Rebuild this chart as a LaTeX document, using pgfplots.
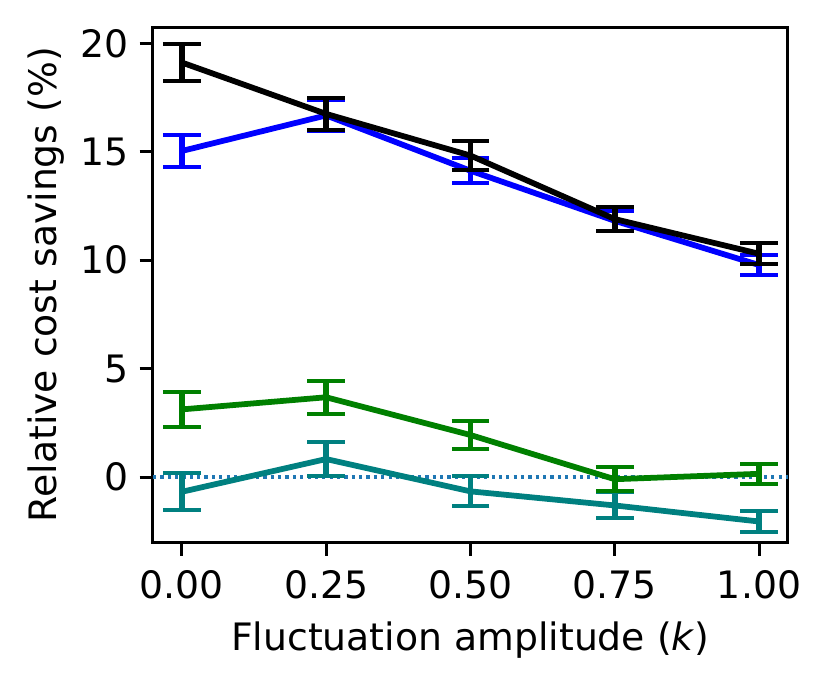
\documentclass[border=0pt]{standalone}
\usepackage{fontspec}
\setmainfont{DejaVu Sans}
\usepackage{pgfplots}
\pgfplotsset{compat=1.18}
\definecolor{mplblue}{HTML}{1F77B4}
\definecolor{teal2}{RGB}{0,128,128}
\definecolor{green2}{RGB}{0,128,0}
\begin{document}
\begin{tikzpicture}
\useasboundingbox (-47.8pt,-46.25pt) rectangle (211.25pt,169.4pt);
\begin{axis}[
  at={(0,0)}, anchor=south west,
  scale only axis, width=198.4pt, height=160.9pt,
  xmin=-0.05, xmax=1.05, ymin=-3, ymax=20.75,
  xtick={0,0.25,0.5,0.75,1},
  xticklabels={0.00,0.25,0.50,0.75,1.00},
  ytick={0,5,10,15,20},
  /pgf/number format/assume math mode=true,
  tick align=outside, tick pos=left,
  major tick length=4.2pt,
  every tick/.style={black, line width=0.95pt},
  axis line style={line width=0.95pt},
  ticklabel style={font=\fontsize{11.8}{13}\selectfont},
  label style={font=\fontsize{11.8}{13}\selectfont},
  xticklabel style={yshift=-1pt},
  xlabel={Fluctuation amplitude (\textit{k})},
  ylabel={Relative cost savings (\%)},
  xlabel style={yshift=-0.3pt},
  ylabel style={yshift=-2pt},
  clip=false,
]
\addplot[mplblue, line width=1.2pt, dash pattern=on 1pt off 1.3pt, forget plot] coordinates {(-0.05,0) (1.05,0)};
\pgfplotsset{
  eb/.style={line width=1.8pt,
    error bars/.cd, y dir=both, y explicit,
    error bar style={line width=1.8pt, solid},
    error mark options={rotate=90, mark size=5.9pt, line width=1.25pt}}
}
\addplot[teal2, eb] coordinates {
 (0,-0.68) +- (0,0.86)
 (0.25,0.83) +- (0,0.77)
 (0.5,-0.66) +- (0,0.69)
 (0.75,-1.31) +- (0,0.60)
 (1,-2.05) +- (0,0.48)};
\addplot[green2, eb] coordinates {
 (0,3.12) +- (0,0.82)
 (0.25,3.68) +- (0,0.77)
 (0.5,1.94) +- (0,0.65)
 (0.75,-0.10) +- (0,0.56)
 (1,0.15) +- (0,0.46)};
\addplot[blue, eb] coordinates {
 (0,15.04) +- (0,0.73)
 (0.25,16.68) +- (0,0.71)
 (0.5,14.13) +- (0,0.58)
 (0.75,11.82) +- (0,0.46)
 (1,9.78) +- (0,0.46)};
\addplot[black, eb] coordinates {
 (0,19.12) +- (0,0.85)
 (0.25,16.75) +- (0,0.75)
 (0.5,14.83) +- (0,0.67)
 (0.75,11.90) +- (0,0.55)
 (1,10.30) +- (0,0.48)};
\end{axis}
\end{tikzpicture}
\end{document}
